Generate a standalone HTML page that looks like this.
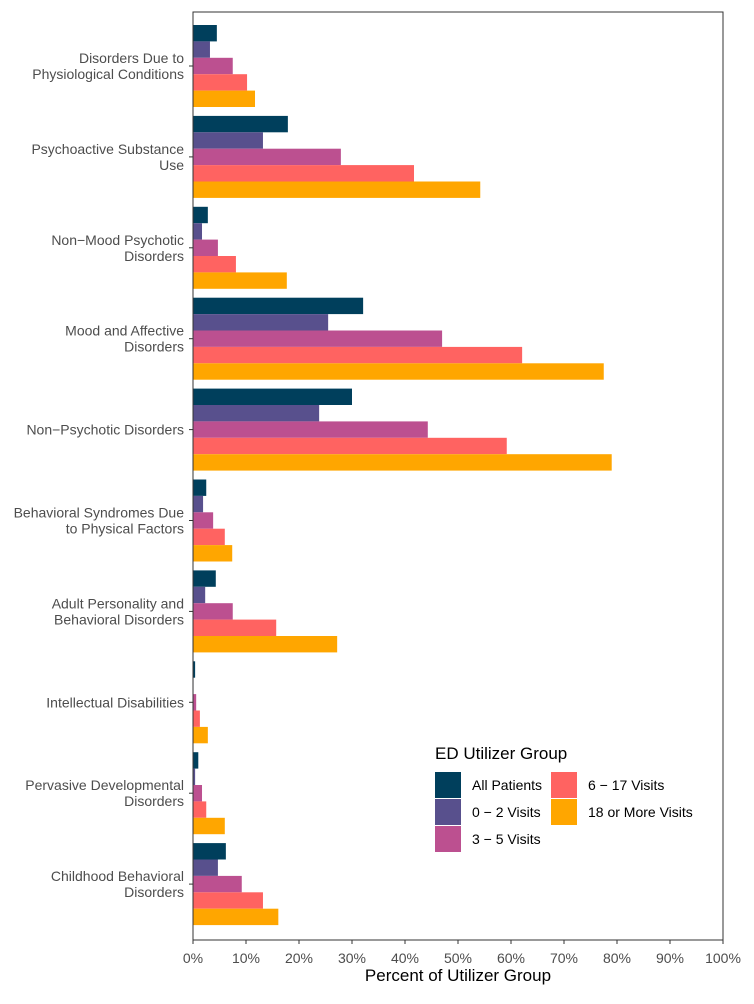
<!DOCTYPE html>
<html><head><meta charset="utf-8"><style>
body{margin:0;background:#fff;font-family:"Liberation Sans",sans-serif}
svg text{font-family:"Liberation Sans",sans-serif}
</style></head><body>
<svg id="chart" width="754" height="999" xmlns="http://www.w3.org/2000/svg"></svg>
<script>
const categories=[["Disorders Due to","Physiological Conditions"],["Psychoactive Substance","Use"],["Non\u2212Mood Psychotic","Disorders"],["Mood and Affective","Disorders"],["Non\u2212Psychotic Disorders"],["Behavioral Syndromes Due","to Physical Factors"],["Adult Personality and","Behavioral Disorders"],["Intellectual Disabilities"],["Pervasive Developmental","Disorders"],["Childhood Behavioral","Disorders"]];
const seriesNames=["All Patients","0 \u2212 2 Visits","3 \u2212 5 Visits","6 \u2212 17 Visits","18 or More Visits"];
const allPatients=[4.5,17.9,2.8,32.1,30,2.5,4.3,0.4,1,6.2];
const visits0to2=[3.2,13.2,1.7,25.5,23.8,1.9,2.3,0.1,0.4,4.7];
const visits3to5=[7.5,27.9,4.7,47,44.3,3.8,7.5,0.6,1.7,9.2];
const visits6to17=[10.2,41.7,8.1,62.1,59.2,6,15.7,1.3,2.5,13.2];
const visits18plus=[11.7,54.2,17.7,77.5,79,7.4,27.2,2.8,6,16.1];
const xTicks=[0,10,20,30,40,50,60,70,80,90,100];
const colors=["#003f5c","#58508d","#bc5090","#ff6361","#ffa600"];
const series=[allPatients,visits0to2,visits3to5,visits6to17,visits18plus];
const svg=document.getElementById('chart');const NS="http://www.w3.org/2000/svg";
const L=193,R=723,T=12,B=940;
const x=v=>L+(R-L)*v/100;
const step=90.9, firstCenter=66, groupH=82;
function mk(t,a,txt){const e=document.createElementNS(NS,t);for(const k in a)e.setAttribute(k,a[k]);if(txt!=null)e.textContent=txt;svg.appendChild(e);return e;}
categories.forEach((c,i)=>{
  const cy=firstCenter+i*step;
  const y0=cy-groupH/2;const bh=groupH/5;
  series.forEach((s,j)=>{
    const r=mk('rect',{x:L,y:y0+j*bh,width:x(s[i])-L,height:bh,fill:colors[j]});
    
    
  });
  const t=mk('text',{x:184,y:cy-(c.length-1)*8+5,'text-anchor':'end','font-size':14,fill:'#4d4d4d'});
  
  
  c.forEach((ln,k)=>{const ts=document.createElementNS(NS,'tspan');ts.setAttribute('x',184);if(k)ts.setAttribute('dy',16);ts.textContent=ln;t.appendChild(ts);});
  mk('line',{x1:189,x2:193,y1:cy,y2:cy,stroke:'#333'});
});
const f=mk('rect',{x:L,y:T,width:R-L,height:B-T,fill:'none',stroke:'#333','stroke-width':1});

xTicks.forEach(v=>{
  mk('line',{x1:x(v),x2:x(v),y1:B,y2:B+4,stroke:'#333'});
  const t=mk('text',{x:x(v),y:963,'text-anchor':'middle','font-size':14,fill:'#4d4d4d'},v+'%');
  
});
const at=mk('text',{x:458,y:981,'text-anchor':'middle','font-size':17,fill:'#000'},'Percent of Utilizer Group');

const lt=mk('text',{x:435,y:759,'font-size':17,fill:'#000'},'ED Utilizer Group');

const pos=[[435,772],[435,799],[435,826],[551,772],[551,799]];
seriesNames.forEach((n,j)=>{
  const [lx,ly]=pos[j];
  const r=mk('rect',{x:lx,y:ly,width:26,height:26,fill:colors[j]});
  
  const t=mk('text',{x:lx+37,y:ly+18,'font-size':14,fill:'#000'},n);
  
});
</script>
</body></html>
